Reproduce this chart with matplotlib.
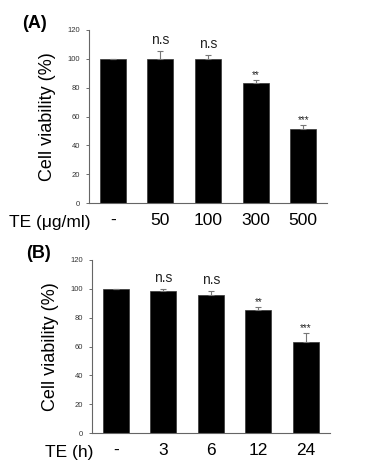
import matplotlib
matplotlib.use("Agg")
import matplotlib.pyplot as plt

plt.rcParams['font.family'] = ['Liberation Sans', 'DejaVu Sans']

cats_a = ['-', '50', '100', '300', '500']
vals_a = [100, 99.6, 100.2, 83.0, 51.6]
errs_a = [0, 5.8, 2.2, 2.0, 2.4]
sig_a = ['', 'n.s', 'n.s', '**', '***']
xlabel_a = 'TE (μg/ml)'

cats_b = ['-', '3', '6', '12', '24']
vals_b = [100, 98.5, 95.5, 85.6, 62.8]
errs_b = [0, 1.4, 3.0, 1.8, 6.8]
sig_b = ['', 'n.s', 'n.s', '**', '***']
xlabel_b = 'TE (h)'

yticks = [0, 20, 40, 60, 80, 100, 120]

W, H = 372, 472
fig = plt.figure(figsize=(W / 100, H / 100), dpi=100)


def panel(rect, cats, vals, errs, sigs, xlabel, tag, tag_xy, xlab_x):
    ax = fig.add_axes(rect)
    x = list(range(len(cats)))
    ax.bar(x, vals, width=0.55, color='black', edgecolor='#333333', linewidth=0.5, zorder=2)
    ax.errorbar(x, vals, yerr=[[0] * len(errs), errs], fmt='none', ecolor='#777777',
                elinewidth=0.8, capsize=2.5, capthick=0.8, zorder=3)
    for xi, v, e, s in zip(x, vals, errs, sigs):
        if not s:
            continue
        if s.startswith('n'):
            ax.annotate(s, (xi, v + e), xytext=(0, 11), textcoords='offset pixels',
                        ha='center', va='center', fontsize=10, color='#222222')
        else:
            ax.annotate(s, (xi, v + e), xytext=(0, 5), textcoords='offset pixels',
                        ha='center', va='center', fontsize=7, color='#222222')
    ax.set_xlim(-0.5, 4.5)
    ax.set_ylim(0, 120)
    ax.set_yticks(yticks)
    ax.tick_params(axis='y', labelsize=5.5, length=2.5, width=0.6, color='#555555',
                   labelcolor='#333333', pad=4)
    ax.set_xticks(x)
    ax.set_xticklabels(cats, fontsize=12.5)
    ax.tick_params(axis='x', length=0, pad=7)
    for sp in ['top', 'right']:
        ax.spines[sp].set_visible(False)
    for sp in ['left', 'bottom']:
        ax.spines[sp].set_color('#666666')
        ax.spines[sp].set_linewidth(0.8)
    ax.set_ylabel('Cell viability (%)', fontsize=13, labelpad=8)
    fig.text(xlab_x, rect[1] - 19 / H, xlabel, fontsize=12.5, ha='left', va='center')
    fig.text(tag_xy[0], tag_xy[1], tag, fontsize=13, fontweight='bold', ha='left', va='center')
    return ax


panel([89 / W, 1 - 203 / H, 238 / W, 173 / H], cats_a, vals_a, errs_a, sig_a, xlabel_a,
      '(A)', (22 / W, 1 - 24 / H), 9 / W)
panel([92 / W, 1 - 433 / H, 237.5 / W, 173 / H], cats_b, vals_b, errs_b, sig_b, xlabel_b,
      '(B)', (26 / W, 1 - 253 / H), 45 / W)

fig.savefig('out.png', dpi=100)
